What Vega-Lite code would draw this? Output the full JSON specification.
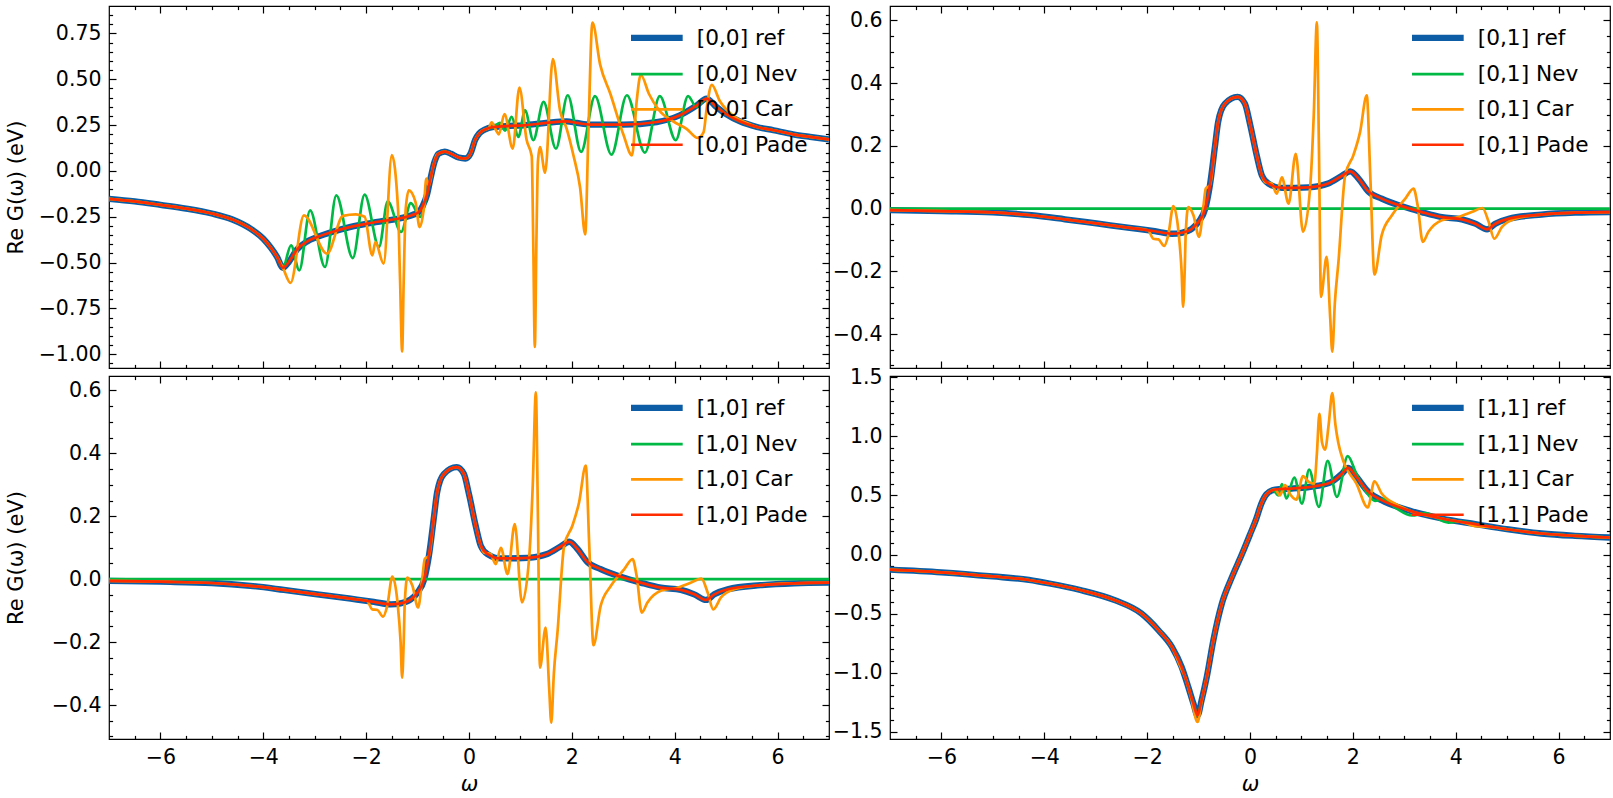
{
  "$schema": "https://vega.github.io/schema/vega-lite/v6.json",
  "padding": {"left": 4, "top": 4, "right": 0, "bottom": 0},
  "background": "white",
  "config": {
    "font": "DejaVu Sans",
    "view": {"stroke": "black", "strokeWidth": 1.2},
    "axis": {
      "grid": false, "domain": false, "tickColor": "black", "tickWidth": 1.2,
      "labelFont": "DejaVu Sans", "labelFontSize": 20.5, "labelColor": "black",
      "titleFont": "DejaVu Sans", "titleFontSize": 21, "titleFontWeight": "normal", "titleColor": "black",
      "labelFlush": false, "labelOverlap": false, "labelPadding": 15
    },
    "legend": {
      "orient": "top-right", "offset": 21, "padding": 0, "symbolType": "stroke",
      "symbolSize": 2670, "symbolStrokeWidth": 2.7, "labelOffset": 29, "rowPadding": 12.3,
      "labelFont": "DejaVu Sans", "labelFontSize": 21.7, "labelColor": "black", "labelLimit": 500
    }
  },
  "datasets": {
    "r00": [
      {"w": -7, "v": -0.152}, {"w": -6.5, "v": -0.166}, {"w": -6, "v": -0.185}, {"w": -5.5, "v": -0.205},
      {"w": -5, "v": -0.232}, {"w": -4.6, "v": -0.265}, {"w": -4.25, "v": -0.315}, {"w": -4, "v": -0.37},
      {"w": -3.85, "v": -0.42}, {"w": -3.73, "v": -0.47}, {"w": -3.62, "v": -0.528}, {"w": -3.5, "v": -0.495},
      {"w": -3.35, "v": -0.43}, {"w": -3.15, "v": -0.385}, {"w": -2.95, "v": -0.36}, {"w": -2.63, "v": -0.33},
      {"w": -2.3, "v": -0.305}, {"w": -1.98, "v": -0.287}, {"w": -1.65, "v": -0.272}, {"w": -1.33, "v": -0.258},
      {"w": -1.1, "v": -0.24}, {"w": -0.98, "v": -0.225}, {"w": -0.9, "v": -0.19}, {"w": -0.82, "v": -0.133},
      {"w": -0.74, "v": -0.03}, {"w": -0.67, "v": 0.05}, {"w": -0.59, "v": 0.095}, {"w": -0.47, "v": 0.106},
      {"w": -0.35, "v": 0.094}, {"w": -0.2, "v": 0.073}, {"w": -0.07, "v": 0.068}, {"w": 0.03, "v": 0.095},
      {"w": 0.12, "v": 0.17}, {"w": 0.2, "v": 0.205}, {"w": 0.3, "v": 0.225}, {"w": 0.48, "v": 0.24},
      {"w": 0.8, "v": 0.246}, {"w": 1.06, "v": 0.249}, {"w": 1.5, "v": 0.262}, {"w": 1.9, "v": 0.271},
      {"w": 2.1, "v": 0.262}, {"w": 2.36, "v": 0.253}, {"w": 3, "v": 0.253}, {"w": 3.65, "v": 0.267},
      {"w": 4.1, "v": 0.304}, {"w": 4.43, "v": 0.358}, {"w": 4.62, "v": 0.395}, {"w": 4.8, "v": 0.352},
      {"w": 5, "v": 0.31}, {"w": 5.27, "v": 0.27}, {"w": 5.6, "v": 0.24}, {"w": 5.92, "v": 0.222},
      {"w": 6.3, "v": 0.2}, {"w": 6.63, "v": 0.186}, {"w": 7, "v": 0.172}
    ],
    "n00": [
      {"w": -7, "v": -0.152}, {"w": -6.5, "v": -0.166}, {"w": -6, "v": -0.185}, {"w": -5.5, "v": -0.205},
      {"w": -5, "v": -0.232}, {"w": -4.6, "v": -0.265}, {"w": -4.25, "v": -0.315}, {"w": -4, "v": -0.37},
      {"w": -3.85, "v": -0.42}, {"w": -3.73, "v": -0.47}, {"w": -3.62, "v": -0.528}, {"w": -3.46, "v": -0.406},
      {"w": -3.3, "v": -0.542}, {"w": -3.09, "v": -0.215}, {"w": -2.8, "v": -0.524}, {"w": -2.58, "v": -0.133},
      {"w": -2.26, "v": -0.475}, {"w": -2.03, "v": -0.129}, {"w": -1.75, "v": -0.415}, {"w": -1.58, "v": -0.166},
      {"w": -1.32, "v": -0.333}, {"w": -1.13, "v": -0.175}, {"w": -0.95, "v": -0.251}, {"w": -0.82, "v": -0.133},
      {"w": -0.74, "v": -0.03}, {"w": -0.67, "v": 0.05}, {"w": -0.59, "v": 0.095}, {"w": -0.47, "v": 0.106},
      {"w": -0.35, "v": 0.094}, {"w": -0.2, "v": 0.073}, {"w": -0.07, "v": 0.068}, {"w": 0.03, "v": 0.095},
      {"w": 0.12, "v": 0.17}, {"w": 0.2, "v": 0.205}, {"w": 0.3, "v": 0.225}, {"w": 0.48, "v": 0.24},
      {"w": 0.6, "v": 0.262}, {"w": 0.7, "v": 0.22}, {"w": 0.83, "v": 0.295}, {"w": 0.96, "v": 0.186},
      {"w": 1.09, "v": 0.331}, {"w": 1.25, "v": 0.168}, {"w": 1.45, "v": 0.377}, {"w": 1.69, "v": 0.122},
      {"w": 1.92, "v": 0.413}, {"w": 2.18, "v": 0.104}, {"w": 2.45, "v": 0.408}, {"w": 2.77, "v": 0.089},
      {"w": 3.07, "v": 0.413}, {"w": 3.42, "v": 0.1}, {"w": 3.71, "v": 0.408}, {"w": 4.02, "v": 0.168},
      {"w": 4.26, "v": 0.408}, {"w": 4.42, "v": 0.35}, {"w": 4.62, "v": 0.395}, {"w": 4.8, "v": 0.352},
      {"w": 5, "v": 0.31}, {"w": 5.27, "v": 0.27}, {"w": 5.6, "v": 0.24}, {"w": 5.92, "v": 0.222},
      {"w": 6.3, "v": 0.2}, {"w": 6.63, "v": 0.186}, {"w": 7, "v": 0.172}
    ],
    "c00": [
      {"w": -7, "v": -0.152}, {"w": -6.5, "v": -0.166}, {"w": -6, "v": -0.185}, {"w": -5.5, "v": -0.205},
      {"w": -5, "v": -0.232}, {"w": -4.6, "v": -0.265}, {"w": -4.25, "v": -0.315}, {"w": -4, "v": -0.37},
      {"w": -3.85, "v": -0.42}, {"w": -3.73, "v": -0.47}, {"w": -3.62, "v": -0.528}, {"w": -3.47, "v": -0.611},
      {"w": -3.21, "v": -0.242}, {"w": -2.76, "v": -0.451}, {"w": -2.45, "v": -0.245}, {"w": -2.2, "v": -0.237},
      {"w": -2.03, "v": -0.25}, {"w": -1.88, "v": -0.46}, {"w": -1.82, "v": -0.388}, {"w": -1.66, "v": -0.506},
      {"w": -1.5, "v": 0.086}, {"w": -1.38, "v": -0.206}, {"w": -1.34, "v": -0.6}, {"w": -1.3, "v": -0.985},
      {"w": -1.27, "v": -0.6}, {"w": -1.23, "v": -0.206}, {"w": -1.17, "v": -0.106}, {"w": -1.04, "v": -0.17},
      {"w": -0.96, "v": -0.306}, {"w": -0.88, "v": -0.206}, {"w": -0.83, "v": -0.042}, {"w": -0.78, "v": -0.08},
      {"w": -0.7, "v": 0.02}, {"w": -0.62, "v": 0.09}, {"w": -0.47, "v": 0.106}, {"w": -0.35, "v": 0.094},
      {"w": -0.2, "v": 0.073}, {"w": -0.07, "v": 0.068}, {"w": 0.03, "v": 0.095}, {"w": 0.12, "v": 0.17},
      {"w": 0.2, "v": 0.205}, {"w": 0.3, "v": 0.225}, {"w": 0.38, "v": 0.232}, {"w": 0.44, "v": 0.265},
      {"w": 0.52, "v": 0.225}, {"w": 0.58, "v": 0.2}, {"w": 0.69, "v": 0.31}, {"w": 0.85, "v": 0.122},
      {"w": 0.98, "v": 0.455}, {"w": 1.12, "v": 0.17}, {"w": 1.22, "v": 0.08}, {"w": 1.25, "v": -0.4},
      {"w": 1.28, "v": -0.96}, {"w": 1.31, "v": -0.4}, {"w": 1.34, "v": 0.05}, {"w": 1.38, "v": 0.13},
      {"w": 1.48, "v": -0.01}, {"w": 1.63, "v": 0.61}, {"w": 1.77, "v": 0.33}, {"w": 1.9, "v": 0.23},
      {"w": 2.03, "v": 0.086}, {"w": 2.16, "v": -0.09}, {"w": 2.26, "v": -0.346}, {"w": 2.32, "v": 0.195},
      {"w": 2.4, "v": 0.81}, {"w": 2.55, "v": 0.58}, {"w": 2.75, "v": 0.42}, {"w": 3, "v": 0.2},
      {"w": 3.17, "v": 0.085}, {"w": 3.26, "v": 0.38}, {"w": 3.34, "v": 0.525}, {"w": 3.5, "v": 0.42},
      {"w": 3.7, "v": 0.33}, {"w": 3.97, "v": 0.27}, {"w": 4.23, "v": 0.23}, {"w": 4.45, "v": 0.18},
      {"w": 4.56, "v": 0.21}, {"w": 4.63, "v": 0.36}, {"w": 4.72, "v": 0.47}, {"w": 4.88, "v": 0.38},
      {"w": 5.14, "v": 0.3}, {"w": 5.4, "v": 0.262}, {"w": 5.6, "v": 0.24}, {"w": 5.92, "v": 0.222},
      {"w": 6.3, "v": 0.2}, {"w": 6.63, "v": 0.186}, {"w": 7, "v": 0.172}
    ],
    "r01": [
      {"w": -7, "v": -0.005}, {"w": -6, "v": -0.008}, {"w": -5, "v": -0.012}, {"w": -4.25, "v": -0.021},
      {"w": -3.6, "v": -0.034}, {"w": -2.95, "v": -0.048}, {"w": -2.3, "v": -0.062}, {"w": -1.85, "v": -0.072},
      {"w": -1.52, "v": -0.08}, {"w": -1.33, "v": -0.077}, {"w": -1.13, "v": -0.064}, {"w": -1, "v": -0.042},
      {"w": -0.87, "v": 0}, {"w": -0.78, "v": 0.074}, {"w": -0.68, "v": 0.2}, {"w": -0.62, "v": 0.276},
      {"w": -0.49, "v": 0.334}, {"w": -0.24, "v": 0.356}, {"w": -0.1, "v": 0.335}, {"w": 0, "v": 0.27},
      {"w": 0.13, "v": 0.17}, {"w": 0.23, "v": 0.106}, {"w": 0.36, "v": 0.08}, {"w": 0.62, "v": 0.066},
      {"w": 1.14, "v": 0.068}, {"w": 1.52, "v": 0.08}, {"w": 1.78, "v": 0.104}, {"w": 1.95, "v": 0.119},
      {"w": 2.11, "v": 0.096}, {"w": 2.3, "v": 0.055}, {"w": 2.56, "v": 0.032}, {"w": 2.95, "v": 0.008},
      {"w": 3.34, "v": -0.011}, {"w": 3.73, "v": -0.027}, {"w": 4.12, "v": -0.034}, {"w": 4.38, "v": -0.048},
      {"w": 4.61, "v": -0.066}, {"w": 4.77, "v": -0.048}, {"w": 5.03, "v": -0.032}, {"w": 5.67, "v": -0.019},
      {"w": 6.32, "v": -0.013}, {"w": 7, "v": -0.011}
    ],
    "c01": [
      {"w": -7, "v": -0.005}, {"w": -6, "v": -0.008}, {"w": -5, "v": -0.012}, {"w": -4.25, "v": -0.021},
      {"w": -3.6, "v": -0.034}, {"w": -2.95, "v": -0.048}, {"w": -2.3, "v": -0.062}, {"w": -1.98, "v": -0.069},
      {"w": -1.88, "v": -0.096}, {"w": -1.78, "v": -0.098}, {"w": -1.67, "v": -0.119}, {"w": -1.59, "v": -0.085},
      {"w": -1.49, "v": 0.008}, {"w": -1.39, "v": -0.074}, {"w": -1.33, "v": -0.2}, {"w": -1.3, "v": -0.313},
      {"w": -1.27, "v": -0.2}, {"w": -1.25, "v": -0.08}, {"w": -1.2, "v": 0.005}, {"w": -1.1, "v": -0.021},
      {"w": -0.99, "v": -0.09}, {"w": -0.91, "v": 0}, {"w": -0.86, "v": 0.064}, {"w": -0.78, "v": 0.074},
      {"w": -0.68, "v": 0.2}, {"w": -0.62, "v": 0.276}, {"w": -0.49, "v": 0.334}, {"w": -0.24, "v": 0.356},
      {"w": -0.1, "v": 0.335}, {"w": 0, "v": 0.27}, {"w": 0.13, "v": 0.17}, {"w": 0.23, "v": 0.106},
      {"w": 0.29, "v": 0.085}, {"w": 0.42, "v": 0.08}, {"w": 0.52, "v": 0.048}, {"w": 0.62, "v": 0.1},
      {"w": 0.75, "v": 0.016}, {"w": 0.89, "v": 0.175}, {"w": 1.03, "v": -0.074}, {"w": 1.17, "v": 0.069},
      {"w": 1.24, "v": 0.3}, {"w": 1.3, "v": 0.594}, {"w": 1.34, "v": 0.2}, {"w": 1.38, "v": -0.281},
      {"w": 1.49, "v": -0.154}, {"w": 1.56, "v": -0.35}, {"w": 1.6, "v": -0.456}, {"w": 1.65, "v": -0.3},
      {"w": 1.72, "v": -0.17}, {"w": 1.85, "v": 0.106}, {"w": 2.01, "v": 0.17}, {"w": 2.14, "v": 0.244},
      {"w": 2.27, "v": 0.361}, {"w": 2.34, "v": 0.1}, {"w": 2.42, "v": -0.21}, {"w": 2.56, "v": -0.085},
      {"w": 2.76, "v": -0.021}, {"w": 3.02, "v": 0.032}, {"w": 3.18, "v": 0.064}, {"w": 3.26, "v": 0.01},
      {"w": 3.36, "v": -0.106}, {"w": 3.47, "v": -0.074}, {"w": 3.73, "v": -0.037}, {"w": 4.05, "v": -0.027},
      {"w": 4.31, "v": -0.011}, {"w": 4.52, "v": 0.002}, {"w": 4.64, "v": -0.042}, {"w": 4.75, "v": -0.096},
      {"w": 4.9, "v": -0.058}, {"w": 5.16, "v": -0.032}, {"w": 5.67, "v": -0.019}, {"w": 6.32, "v": -0.013},
      {"w": 7, "v": -0.011}
    ],
    "z": [{"w": -7, "v": 0}, {"w": 7, "v": 0}],
    "r11": [
      {"w": -7, "v": -0.127}, {"w": -6, "v": -0.15}, {"w": -5, "v": -0.185}, {"w": -4.3, "v": -0.215},
      {"w": -3.9, "v": -0.245}, {"w": -3.3, "v": -0.3}, {"w": -2.63, "v": -0.386}, {"w": -2.11, "v": -0.499},
      {"w": -1.78, "v": -0.64}, {"w": -1.52, "v": -0.78}, {"w": -1.33, "v": -0.95}, {"w": -1.2, "v": -1.12},
      {"w": -1.1, "v": -1.26}, {"w": -1.02, "v": -1.36}, {"w": -0.94, "v": -1.23}, {"w": -0.84, "v": -1.035},
      {"w": -0.71, "v": -0.72}, {"w": -0.55, "v": -0.42}, {"w": -0.36, "v": -0.2}, {"w": -0.16, "v": 0},
      {"w": 0, "v": 0.17}, {"w": 0.12, "v": 0.3}, {"w": 0.22, "v": 0.43}, {"w": 0.32, "v": 0.51},
      {"w": 0.49, "v": 0.55}, {"w": 0.81, "v": 0.558}, {"w": 1.27, "v": 0.578}, {"w": 1.59, "v": 0.615},
      {"w": 1.78, "v": 0.68}, {"w": 1.91, "v": 0.733}, {"w": 2.07, "v": 0.657}, {"w": 2.3, "v": 0.53},
      {"w": 2.56, "v": 0.46}, {"w": 3.08, "v": 0.375}, {"w": 3.73, "v": 0.305}, {"w": 4.38, "v": 0.257},
      {"w": 5.03, "v": 0.212}, {"w": 5.67, "v": 0.178}, {"w": 6.32, "v": 0.158}, {"w": 7, "v": 0.144}
    ],
    "n11": [
      {"w": -7, "v": -0.127}, {"w": -6, "v": -0.15}, {"w": -5, "v": -0.185}, {"w": -4.3, "v": -0.215},
      {"w": -3.9, "v": -0.245}, {"w": -3.3, "v": -0.3}, {"w": -2.63, "v": -0.386}, {"w": -2.11, "v": -0.499},
      {"w": -1.78, "v": -0.64}, {"w": -1.52, "v": -0.78}, {"w": -1.33, "v": -0.95}, {"w": -1.2, "v": -1.12},
      {"w": -1.1, "v": -1.26}, {"w": -1.02, "v": -1.36}, {"w": -0.94, "v": -1.23}, {"w": -0.84, "v": -1.035},
      {"w": -0.71, "v": -0.72}, {"w": -0.55, "v": -0.42}, {"w": -0.36, "v": -0.2}, {"w": -0.16, "v": 0},
      {"w": 0, "v": 0.17}, {"w": 0.12, "v": 0.3}, {"w": 0.22, "v": 0.43}, {"w": 0.32, "v": 0.51},
      {"w": 0.45, "v": 0.544}, {"w": 0.55, "v": 0.5}, {"w": 0.62, "v": 0.595}, {"w": 0.71, "v": 0.474},
      {"w": 0.86, "v": 0.651}, {"w": 1.01, "v": 0.431}, {"w": 1.15, "v": 0.719}, {"w": 1.34, "v": 0.403},
      {"w": 1.51, "v": 0.792}, {"w": 1.69, "v": 0.488}, {"w": 1.9, "v": 0.832}, {"w": 2.07, "v": 0.68},
      {"w": 2.24, "v": 0.544}, {"w": 2.43, "v": 0.454}, {"w": 2.6, "v": 0.47}, {"w": 2.85, "v": 0.39},
      {"w": 3.15, "v": 0.33}, {"w": 3.4, "v": 0.35}, {"w": 3.86, "v": 0.27}, {"w": 4.1, "v": 0.28},
      {"w": 4.38, "v": 0.257}, {"w": 5.03, "v": 0.212}, {"w": 5.67, "v": 0.178}, {"w": 6.32, "v": 0.158},
      {"w": 7, "v": 0.144}
    ],
    "c11": [
      {"w": -7, "v": -0.127}, {"w": -6, "v": -0.15}, {"w": -5, "v": -0.185}, {"w": -4.3, "v": -0.215},
      {"w": -3.9, "v": -0.245}, {"w": -3.3, "v": -0.3}, {"w": -2.63, "v": -0.386}, {"w": -2.11, "v": -0.499},
      {"w": -1.78, "v": -0.64}, {"w": -1.52, "v": -0.78}, {"w": -1.33, "v": -0.97}, {"w": -1.25, "v": -1.05},
      {"w": -1.15, "v": -1.2}, {"w": -1.02, "v": -1.416}, {"w": -0.94, "v": -1.24}, {"w": -0.84, "v": -1.035},
      {"w": -0.71, "v": -0.72}, {"w": -0.55, "v": -0.42}, {"w": -0.36, "v": -0.2}, {"w": -0.16, "v": 0},
      {"w": 0, "v": 0.17}, {"w": 0.12, "v": 0.3}, {"w": 0.22, "v": 0.43}, {"w": 0.32, "v": 0.51},
      {"w": 0.49, "v": 0.55}, {"w": 0.58, "v": 0.5}, {"w": 0.68, "v": 0.587}, {"w": 0.78, "v": 0.51},
      {"w": 0.9, "v": 0.465}, {"w": 1.03, "v": 0.663}, {"w": 1.14, "v": 0.615}, {"w": 1.25, "v": 0.6},
      {"w": 1.3, "v": 0.85}, {"w": 1.35, "v": 1.19}, {"w": 1.4, "v": 0.95}, {"w": 1.46, "v": 0.888},
      {"w": 1.53, "v": 1.1}, {"w": 1.6, "v": 1.366}, {"w": 1.66, "v": 1.1}, {"w": 1.72, "v": 0.939},
      {"w": 1.82, "v": 0.784}, {"w": 2.07, "v": 0.6}, {"w": 2.29, "v": 0.398}, {"w": 2.42, "v": 0.62},
      {"w": 2.56, "v": 0.516}, {"w": 2.82, "v": 0.43}, {"w": 3.08, "v": 0.375}, {"w": 3.73, "v": 0.305},
      {"w": 4.2, "v": 0.265}, {"w": 4.38, "v": 0.24}, {"w": 4.7, "v": 0.232}, {"w": 5.03, "v": 0.212},
      {"w": 5.67, "v": 0.178}, {"w": 6.32, "v": 0.158}, {"w": 7, "v": 0.144}
    ]
  },
  "columns": 2,
  "spacing": {"row": 8, "column": 61},
  "bounds": "flush",
  "resolve": {
    "scale": {"x": "independent", "y": "independent", "color": "independent"},
    "axis": {"x": "independent", "y": "independent"},
    "legend": {"color": "independent"}
  },
  "concat": [
    {
      "width": 720, "height": 362,
      "resolve": {"axis": {"x": "independent", "y": "independent"}},
      "layer": [
        {
          "data": {"name": "r00"},
          "mark": {"type": "line", "interpolate": "monotone", "strokeWidth": 6.3, "clip": true, "strokeJoin": "round"},
          "encoding": {
            "x": {"field": "w", "type": "quantitative", "scale": {"domain": [-7, 7], "nice": false, "zero": false},
              "axis": {"orient": "bottom", "values": [-6, -4, -2, 0, 2, 4, 6], "tickSize": -7, "labels": false, "title": null}},
            "y": {"field": "v", "type": "quantitative", "scale": {"domain": [-1.075, 0.9], "nice": false, "zero": false},
              "axis": {"orient": "left", "values": [-1, -0.75, -0.5, -0.25, 0, 0.25, 0.5, 0.75], "format": ".2f", "tickSize": -7, "title": "Re G(ω) (eV)", "titleX": -83}},
            "color": {"datum": "[0,0] ref", "type": "nominal",
              "scale": {"domain": ["[0,0] ref", "[0,0] Nev", "[0,0] Car", "[0,0] Pade"], "range": ["#0C5DA5", "#00B945", "#FF9500", "#FF2C00"]},
              "legend": {"title": null, "encode": {"symbols": {"update": {"strokeWidth": {"signal": "datum.index === 0 ? 6.3 : 2.7"}}}}}}
          }
        },
        {
          "data": {"name": "n00"},
          "mark": {"type": "line", "interpolate": "monotone", "strokeWidth": 2.7, "clip": true, "strokeJoin": "round"},
          "encoding": {
            "x": {"field": "w", "type": "quantitative", "scale": {"domain": [-7, 7], "nice": false, "zero": false},
              "axis": {"orient": "bottom", "values": [-6.5, -5.5, -5, -4.5, -3.5, -3, -2.5, -1.5, -1, -0.5, 0.5, 1, 1.5, 2.5, 3, 3.5, 4.5, 5, 5.5, 6.5], "tickSize": -3.6, "labels": false, "title": null}},
            "y": {"field": "v", "type": "quantitative", "scale": {"domain": [-1.075, 0.9], "nice": false, "zero": false},
              "axis": {"orient": "left", "values": [-1.05, -0.95, -0.9, -0.85, -0.8, -0.7, -0.65, -0.6, -0.55, -0.45, -0.4, -0.35, -0.3, -0.2, -0.15, -0.1, -0.05, 0.05, 0.1, 0.15, 0.2, 0.3, 0.35, 0.4, 0.45, 0.55, 0.6, 0.65, 0.7, 0.8, 0.85], "tickSize": -3.6, "labels": false, "title": null}},
            "color": {"datum": "[0,0] Nev", "type": "nominal",
              "scale": {"domain": ["[0,0] ref", "[0,0] Nev", "[0,0] Car", "[0,0] Pade"], "range": ["#0C5DA5", "#00B945", "#FF9500", "#FF2C00"]},
              "legend": {"title": null, "encode": {"symbols": {"update": {"strokeWidth": {"signal": "datum.index === 0 ? 6.3 : 2.7"}}}}}}
          }
        },
        {
          "data": {"name": "c00"},
          "mark": {"type": "line", "interpolate": "monotone", "strokeWidth": 2.7, "clip": true, "strokeJoin": "round"},
          "encoding": {
            "x": {"field": "w", "type": "quantitative", "scale": {"domain": [-7, 7], "nice": false, "zero": false},
              "axis": {"orient": "top", "values": [-6, -4, -2, 0, 2, 4, 6], "tickSize": -7, "labels": false, "title": null}},
            "y": {"field": "v", "type": "quantitative", "scale": {"domain": [-1.075, 0.9], "nice": false, "zero": false},
              "axis": {"orient": "right", "values": [-1, -0.75, -0.5, -0.25, 0, 0.25, 0.5, 0.75], "tickSize": -7, "labels": false, "title": null}},
            "color": {"datum": "[0,0] Car", "type": "nominal",
              "scale": {"domain": ["[0,0] ref", "[0,0] Nev", "[0,0] Car", "[0,0] Pade"], "range": ["#0C5DA5", "#00B945", "#FF9500", "#FF2C00"]},
              "legend": {"title": null, "encode": {"symbols": {"update": {"strokeWidth": {"signal": "datum.index === 0 ? 6.3 : 2.7"}}}}}}
          }
        },
        {
          "data": {"name": "r00"},
          "mark": {"type": "line", "interpolate": "monotone", "strokeWidth": 2.7, "clip": true, "strokeJoin": "round"},
          "encoding": {
            "x": {"field": "w", "type": "quantitative", "scale": {"domain": [-7, 7], "nice": false, "zero": false},
              "axis": {"orient": "top", "values": [-6.5, -5.5, -5, -4.5, -3.5, -3, -2.5, -1.5, -1, -0.5, 0.5, 1, 1.5, 2.5, 3, 3.5, 4.5, 5, 5.5, 6.5], "tickSize": -3.6, "labels": false, "title": null}},
            "y": {"field": "v", "type": "quantitative", "scale": {"domain": [-1.075, 0.9], "nice": false, "zero": false},
              "axis": {"orient": "right", "values": [-1.05, -0.95, -0.9, -0.85, -0.8, -0.7, -0.65, -0.6, -0.55, -0.45, -0.4, -0.35, -0.3, -0.2, -0.15, -0.1, -0.05, 0.05, 0.1, 0.15, 0.2, 0.3, 0.35, 0.4, 0.45, 0.55, 0.6, 0.65, 0.7, 0.8, 0.85], "tickSize": -3.6, "labels": false, "title": null}},
            "color": {"datum": "[0,0] Pade", "type": "nominal",
              "scale": {"domain": ["[0,0] ref", "[0,0] Nev", "[0,0] Car", "[0,0] Pade"], "range": ["#0C5DA5", "#00B945", "#FF9500", "#FF2C00"]},
              "legend": {"title": null, "encode": {"symbols": {"update": {"strokeWidth": {"signal": "datum.index === 0 ? 6.3 : 2.7"}}}}}}
          }
        }
      ]
    },
    {
      "width": 720, "height": 362,
      "resolve": {"axis": {"x": "independent", "y": "independent"}},
      "layer": [
        {
          "data": {"name": "r01"},
          "mark": {"type": "line", "interpolate": "monotone", "strokeWidth": 6.3, "clip": true, "strokeJoin": "round"},
          "encoding": {
            "x": {"field": "w", "type": "quantitative", "scale": {"domain": [-7, 7], "nice": false, "zero": false},
              "axis": {"orient": "bottom", "values": [-6, -4, -2, 0, 2, 4, 6], "tickSize": -7, "labels": false, "title": null}},
            "y": {"field": "v", "type": "quantitative", "scale": {"domain": [-0.508, 0.646], "nice": false, "zero": false},
              "axis": {"orient": "left", "values": [-0.4, -0.2, 0, 0.2, 0.4, 0.6], "format": ".1f", "tickSize": -7, "title": null}},
            "color": {"datum": "[0,1] ref", "type": "nominal",
              "scale": {"domain": ["[0,1] ref", "[0,1] Nev", "[0,1] Car", "[0,1] Pade"], "range": ["#0C5DA5", "#00B945", "#FF9500", "#FF2C00"]},
              "legend": {"title": null, "encode": {"symbols": {"update": {"strokeWidth": {"signal": "datum.index === 0 ? 6.3 : 2.7"}}}}}}
          }
        },
        {
          "data": {"name": "z"},
          "mark": {"type": "line", "strokeWidth": 2.7, "clip": true},
          "encoding": {
            "x": {"field": "w", "type": "quantitative", "scale": {"domain": [-7, 7], "nice": false, "zero": false},
              "axis": {"orient": "bottom", "values": [-6.5, -5.5, -5, -4.5, -3.5, -3, -2.5, -1.5, -1, -0.5, 0.5, 1, 1.5, 2.5, 3, 3.5, 4.5, 5, 5.5, 6.5], "tickSize": -3.6, "labels": false, "title": null}},
            "y": {"field": "v", "type": "quantitative", "scale": {"domain": [-0.508, 0.646], "nice": false, "zero": false},
              "axis": {"orient": "left", "values": [-0.5, -0.45, -0.35, -0.3, -0.25, -0.15, -0.1, -0.05, 0.05, 0.1, 0.15, 0.25, 0.3, 0.35, 0.45, 0.5, 0.55], "tickSize": -3.6, "labels": false, "title": null}},
            "color": {"datum": "[0,1] Nev", "type": "nominal",
              "scale": {"domain": ["[0,1] ref", "[0,1] Nev", "[0,1] Car", "[0,1] Pade"], "range": ["#0C5DA5", "#00B945", "#FF9500", "#FF2C00"]},
              "legend": {"title": null, "encode": {"symbols": {"update": {"strokeWidth": {"signal": "datum.index === 0 ? 6.3 : 2.7"}}}}}}
          }
        },
        {
          "data": {"name": "c01"},
          "mark": {"type": "line", "interpolate": "monotone", "strokeWidth": 2.7, "clip": true, "strokeJoin": "round"},
          "encoding": {
            "x": {"field": "w", "type": "quantitative", "scale": {"domain": [-7, 7], "nice": false, "zero": false},
              "axis": {"orient": "top", "values": [-6, -4, -2, 0, 2, 4, 6], "tickSize": -7, "labels": false, "title": null}},
            "y": {"field": "v", "type": "quantitative", "scale": {"domain": [-0.508, 0.646], "nice": false, "zero": false},
              "axis": {"orient": "right", "values": [-0.4, -0.2, 0, 0.2, 0.4, 0.6], "tickSize": -7, "labels": false, "title": null}},
            "color": {"datum": "[0,1] Car", "type": "nominal",
              "scale": {"domain": ["[0,1] ref", "[0,1] Nev", "[0,1] Car", "[0,1] Pade"], "range": ["#0C5DA5", "#00B945", "#FF9500", "#FF2C00"]},
              "legend": {"title": null, "encode": {"symbols": {"update": {"strokeWidth": {"signal": "datum.index === 0 ? 6.3 : 2.7"}}}}}}
          }
        },
        {
          "data": {"name": "r01"},
          "mark": {"type": "line", "interpolate": "monotone", "strokeWidth": 2.7, "clip": true, "strokeJoin": "round"},
          "encoding": {
            "x": {"field": "w", "type": "quantitative", "scale": {"domain": [-7, 7], "nice": false, "zero": false},
              "axis": {"orient": "top", "values": [-6.5, -5.5, -5, -4.5, -3.5, -3, -2.5, -1.5, -1, -0.5, 0.5, 1, 1.5, 2.5, 3, 3.5, 4.5, 5, 5.5, 6.5], "tickSize": -3.6, "labels": false, "title": null}},
            "y": {"field": "v", "type": "quantitative", "scale": {"domain": [-0.508, 0.646], "nice": false, "zero": false},
              "axis": {"orient": "right", "values": [-0.5, -0.45, -0.35, -0.3, -0.25, -0.15, -0.1, -0.05, 0.05, 0.1, 0.15, 0.25, 0.3, 0.35, 0.45, 0.5, 0.55], "tickSize": -3.6, "labels": false, "title": null}},
            "color": {"datum": "[0,1] Pade", "type": "nominal",
              "scale": {"domain": ["[0,1] ref", "[0,1] Nev", "[0,1] Car", "[0,1] Pade"], "range": ["#0C5DA5", "#00B945", "#FF9500", "#FF2C00"]},
              "legend": {"title": null, "encode": {"symbols": {"update": {"strokeWidth": {"signal": "datum.index === 0 ? 6.3 : 2.7"}}}}}}
          }
        }
      ]
    },
    {
      "width": 720, "height": 363,
      "resolve": {"axis": {"x": "independent", "y": "independent"}},
      "layer": [
        {
          "data": {"name": "r01"},
          "mark": {"type": "line", "interpolate": "monotone", "strokeWidth": 6.3, "clip": true, "strokeJoin": "round"},
          "encoding": {
            "x": {"field": "w", "type": "quantitative", "scale": {"domain": [-7, 7], "nice": false, "zero": false},
              "axis": {"orient": "bottom", "values": [-6, -4, -2, 0, 2, 4, 6], "tickSize": -7, "title": "ω", "titleFontStyle": "italic", "titlePadding": 6}},
            "y": {"field": "v", "type": "quantitative", "scale": {"domain": [-0.508, 0.646], "nice": false, "zero": false},
              "axis": {"orient": "left", "values": [-0.4, -0.2, 0, 0.2, 0.4, 0.6], "format": ".1f", "tickSize": -7, "title": "Re G(ω) (eV)", "titleX": -83}},
            "color": {"datum": "[1,0] ref", "type": "nominal",
              "scale": {"domain": ["[1,0] ref", "[1,0] Nev", "[1,0] Car", "[1,0] Pade"], "range": ["#0C5DA5", "#00B945", "#FF9500", "#FF2C00"]},
              "legend": {"title": null, "encode": {"symbols": {"update": {"strokeWidth": {"signal": "datum.index === 0 ? 6.3 : 2.7"}}}}}}
          }
        },
        {
          "data": {"name": "z"},
          "mark": {"type": "line", "strokeWidth": 2.7, "clip": true},
          "encoding": {
            "x": {"field": "w", "type": "quantitative", "scale": {"domain": [-7, 7], "nice": false, "zero": false},
              "axis": {"orient": "bottom", "values": [-6.5, -5.5, -5, -4.5, -3.5, -3, -2.5, -1.5, -1, -0.5, 0.5, 1, 1.5, 2.5, 3, 3.5, 4.5, 5, 5.5, 6.5], "tickSize": -3.6, "labels": false, "title": null}},
            "y": {"field": "v", "type": "quantitative", "scale": {"domain": [-0.508, 0.646], "nice": false, "zero": false},
              "axis": {"orient": "left", "values": [-0.5, -0.45, -0.35, -0.3, -0.25, -0.15, -0.1, -0.05, 0.05, 0.1, 0.15, 0.25, 0.3, 0.35, 0.45, 0.5, 0.55], "tickSize": -3.6, "labels": false, "title": null}},
            "color": {"datum": "[1,0] Nev", "type": "nominal",
              "scale": {"domain": ["[1,0] ref", "[1,0] Nev", "[1,0] Car", "[1,0] Pade"], "range": ["#0C5DA5", "#00B945", "#FF9500", "#FF2C00"]},
              "legend": {"title": null, "encode": {"symbols": {"update": {"strokeWidth": {"signal": "datum.index === 0 ? 6.3 : 2.7"}}}}}}
          }
        },
        {
          "data": {"name": "c01"},
          "mark": {"type": "line", "interpolate": "monotone", "strokeWidth": 2.7, "clip": true, "strokeJoin": "round"},
          "encoding": {
            "x": {"field": "w", "type": "quantitative", "scale": {"domain": [-7, 7], "nice": false, "zero": false},
              "axis": {"orient": "top", "values": [-6, -4, -2, 0, 2, 4, 6], "tickSize": -7, "labels": false, "title": null}},
            "y": {"field": "v", "type": "quantitative", "scale": {"domain": [-0.508, 0.646], "nice": false, "zero": false},
              "axis": {"orient": "right", "values": [-0.4, -0.2, 0, 0.2, 0.4, 0.6], "tickSize": -7, "labels": false, "title": null}},
            "color": {"datum": "[1,0] Car", "type": "nominal",
              "scale": {"domain": ["[1,0] ref", "[1,0] Nev", "[1,0] Car", "[1,0] Pade"], "range": ["#0C5DA5", "#00B945", "#FF9500", "#FF2C00"]},
              "legend": {"title": null, "encode": {"symbols": {"update": {"strokeWidth": {"signal": "datum.index === 0 ? 6.3 : 2.7"}}}}}}
          }
        },
        {
          "data": {"name": "r01"},
          "mark": {"type": "line", "interpolate": "monotone", "strokeWidth": 2.7, "clip": true, "strokeJoin": "round"},
          "encoding": {
            "x": {"field": "w", "type": "quantitative", "scale": {"domain": [-7, 7], "nice": false, "zero": false},
              "axis": {"orient": "top", "values": [-6.5, -5.5, -5, -4.5, -3.5, -3, -2.5, -1.5, -1, -0.5, 0.5, 1, 1.5, 2.5, 3, 3.5, 4.5, 5, 5.5, 6.5], "tickSize": -3.6, "labels": false, "title": null}},
            "y": {"field": "v", "type": "quantitative", "scale": {"domain": [-0.508, 0.646], "nice": false, "zero": false},
              "axis": {"orient": "right", "values": [-0.5, -0.45, -0.35, -0.3, -0.25, -0.15, -0.1, -0.05, 0.05, 0.1, 0.15, 0.25, 0.3, 0.35, 0.45, 0.5, 0.55], "tickSize": -3.6, "labels": false, "title": null}},
            "color": {"datum": "[1,0] Pade", "type": "nominal",
              "scale": {"domain": ["[1,0] ref", "[1,0] Nev", "[1,0] Car", "[1,0] Pade"], "range": ["#0C5DA5", "#00B945", "#FF9500", "#FF2C00"]},
              "legend": {"title": null, "encode": {"symbols": {"update": {"strokeWidth": {"signal": "datum.index === 0 ? 6.3 : 2.7"}}}}}}
          }
        }
      ]
    },
    {
      "width": 720, "height": 363,
      "resolve": {"axis": {"x": "independent", "y": "independent"}},
      "layer": [
        {
          "data": {"name": "r11"},
          "mark": {"type": "line", "interpolate": "monotone", "strokeWidth": 6.3, "clip": true, "strokeJoin": "round"},
          "encoding": {
            "x": {"field": "w", "type": "quantitative", "scale": {"domain": [-7, 7], "nice": false, "zero": false},
              "axis": {"orient": "bottom", "values": [-6, -4, -2, 0, 2, 4, 6], "tickSize": -7, "title": "ω", "titleFontStyle": "italic", "titlePadding": 6}},
            "y": {"field": "v", "type": "quantitative", "scale": {"domain": [-1.56, 1.51], "nice": false, "zero": false},
              "axis": {"orient": "left", "values": [-1.5, -1, -0.5, 0, 0.5, 1, 1.5], "format": ".1f", "tickSize": -7, "title": null}},
            "color": {"datum": "[1,1] ref", "type": "nominal",
              "scale": {"domain": ["[1,1] ref", "[1,1] Nev", "[1,1] Car", "[1,1] Pade"], "range": ["#0C5DA5", "#00B945", "#FF9500", "#FF2C00"]},
              "legend": {"title": null, "encode": {"symbols": {"update": {"strokeWidth": {"signal": "datum.index === 0 ? 6.3 : 2.7"}}}}}}
          }
        },
        {
          "data": {"name": "n11"},
          "mark": {"type": "line", "interpolate": "monotone", "strokeWidth": 2.7, "clip": true, "strokeJoin": "round"},
          "encoding": {
            "x": {"field": "w", "type": "quantitative", "scale": {"domain": [-7, 7], "nice": false, "zero": false},
              "axis": {"orient": "bottom", "values": [-6.5, -5.5, -5, -4.5, -3.5, -3, -2.5, -1.5, -1, -0.5, 0.5, 1, 1.5, 2.5, 3, 3.5, 4.5, 5, 5.5, 6.5], "tickSize": -3.6, "labels": false, "title": null}},
            "y": {"field": "v", "type": "quantitative", "scale": {"domain": [-1.56, 1.51], "nice": false, "zero": false},
              "axis": {"orient": "left", "values": [-1.4, -1.3, -1.2, -1.1, -0.9, -0.8, -0.7, -0.6, -0.4, -0.3, -0.2, -0.1, 0.1, 0.2, 0.3, 0.4, 0.6, 0.7, 0.8, 0.9, 1.1, 1.2, 1.3, 1.4], "tickSize": -3.6, "labels": false, "title": null}},
            "color": {"datum": "[1,1] Nev", "type": "nominal",
              "scale": {"domain": ["[1,1] ref", "[1,1] Nev", "[1,1] Car", "[1,1] Pade"], "range": ["#0C5DA5", "#00B945", "#FF9500", "#FF2C00"]},
              "legend": {"title": null, "encode": {"symbols": {"update": {"strokeWidth": {"signal": "datum.index === 0 ? 6.3 : 2.7"}}}}}}
          }
        },
        {
          "data": {"name": "c11"},
          "mark": {"type": "line", "interpolate": "monotone", "strokeWidth": 2.7, "clip": true, "strokeJoin": "round"},
          "encoding": {
            "x": {"field": "w", "type": "quantitative", "scale": {"domain": [-7, 7], "nice": false, "zero": false},
              "axis": {"orient": "top", "values": [-6, -4, -2, 0, 2, 4, 6], "tickSize": -7, "labels": false, "title": null}},
            "y": {"field": "v", "type": "quantitative", "scale": {"domain": [-1.56, 1.51], "nice": false, "zero": false},
              "axis": {"orient": "right", "values": [-1.5, -1, -0.5, 0, 0.5, 1, 1.5], "tickSize": -7, "labels": false, "title": null}},
            "color": {"datum": "[1,1] Car", "type": "nominal",
              "scale": {"domain": ["[1,1] ref", "[1,1] Nev", "[1,1] Car", "[1,1] Pade"], "range": ["#0C5DA5", "#00B945", "#FF9500", "#FF2C00"]},
              "legend": {"title": null, "encode": {"symbols": {"update": {"strokeWidth": {"signal": "datum.index === 0 ? 6.3 : 2.7"}}}}}}
          }
        },
        {
          "data": {"name": "r11"},
          "mark": {"type": "line", "interpolate": "monotone", "strokeWidth": 2.7, "clip": true, "strokeJoin": "round"},
          "encoding": {
            "x": {"field": "w", "type": "quantitative", "scale": {"domain": [-7, 7], "nice": false, "zero": false},
              "axis": {"orient": "top", "values": [-6.5, -5.5, -5, -4.5, -3.5, -3, -2.5, -1.5, -1, -0.5, 0.5, 1, 1.5, 2.5, 3, 3.5, 4.5, 5, 5.5, 6.5], "tickSize": -3.6, "labels": false, "title": null}},
            "y": {"field": "v", "type": "quantitative", "scale": {"domain": [-1.56, 1.51], "nice": false, "zero": false},
              "axis": {"orient": "right", "values": [-1.4, -1.3, -1.2, -1.1, -0.9, -0.8, -0.7, -0.6, -0.4, -0.3, -0.2, -0.1, 0.1, 0.2, 0.3, 0.4, 0.6, 0.7, 0.8, 0.9, 1.1, 1.2, 1.3, 1.4], "tickSize": -3.6, "labels": false, "title": null}},
            "color": {"datum": "[1,1] Pade", "type": "nominal",
              "scale": {"domain": ["[1,1] ref", "[1,1] Nev", "[1,1] Car", "[1,1] Pade"], "range": ["#0C5DA5", "#00B945", "#FF9500", "#FF2C00"]},
              "legend": {"title": null, "encode": {"symbols": {"update": {"strokeWidth": {"signal": "datum.index === 0 ? 6.3 : 2.7"}}}}}}
          }
        }
      ]
    }
  ]
}
